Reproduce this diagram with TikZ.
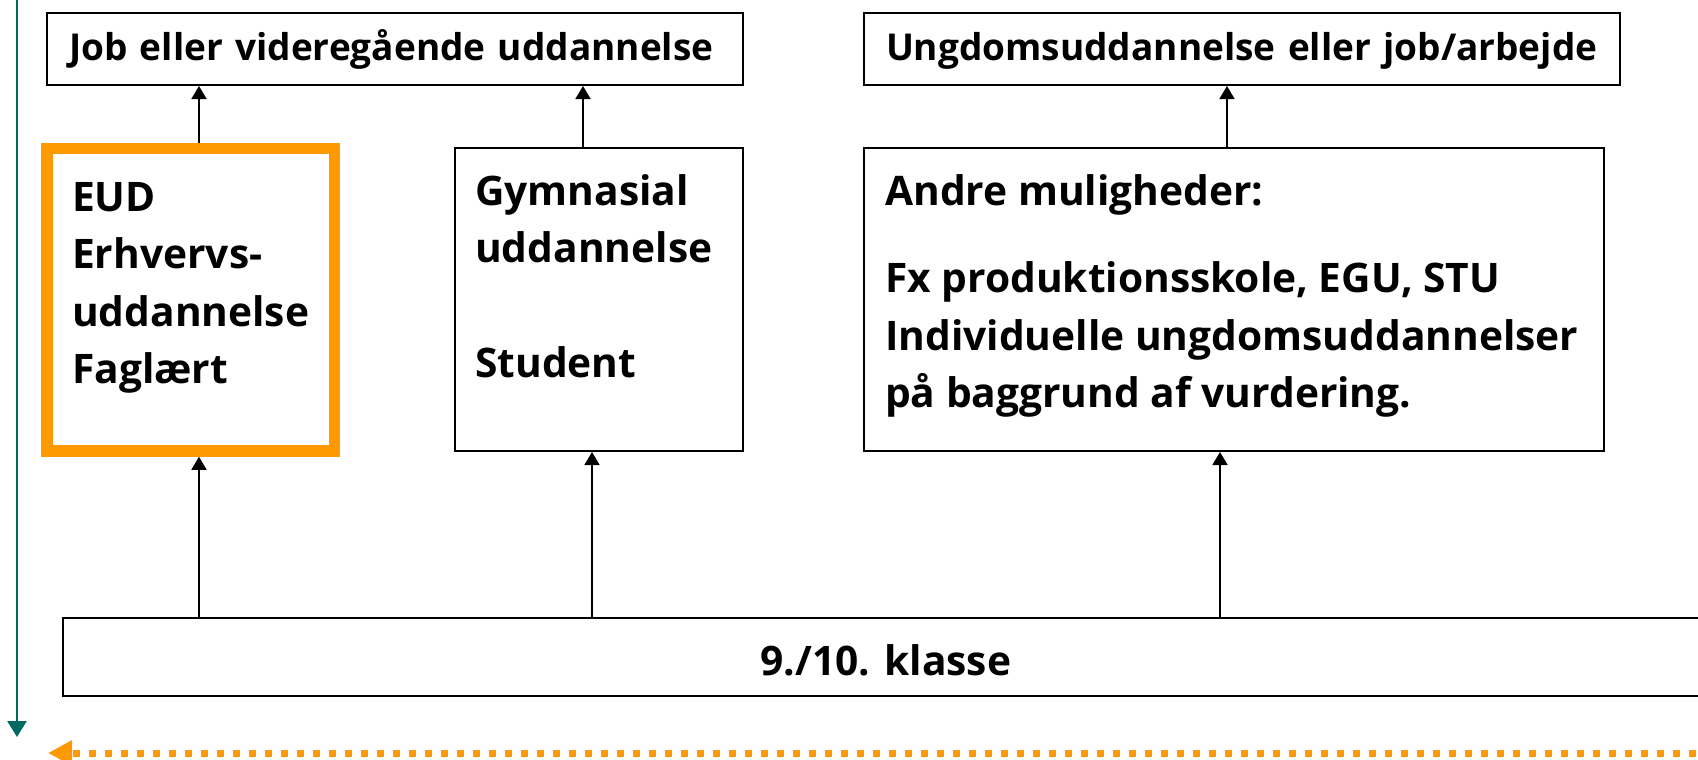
\documentclass[tikz,border=0pt]{standalone}
\usepackage{fontspec}
\setmainfont{Open Sans}
\usetikzlibrary{arrows.meta}
\definecolor{eudorange}{RGB}{255,153,0}
\definecolor{tealc}{RGB}{0,106,96}
\begin{document}
\begin{tikzpicture}[x=1pt,y=-1pt,
  box/.style={draw=black, line width=2pt, fill=white, inner sep=0pt},
  topbox/.style={box, minimum height=72pt, align=left, inner ysep=0pt,
     text height=32pt, text depth=8pt,
     font=\fontsize{37}{44}\selectfont\bfseries},
  bodytext/.style={anchor=north west, inner sep=0pt, align=left,
     font=\fontsize{40.7}{57.5}\selectfont\bfseries},
  arr/.style={line width=1.6pt, -{Triangle[length=13pt,width=15pt]}},
]
\useasboundingbox (0,0) rectangle (1698,760);

% top boxes
\node[topbox, inner xsep=22pt, text width=652pt] (job) at (395,49) {\mbox{Job eller videregående uddannelse}};
\node[topbox, inner xsep=22pt, text width=712pt] (ung) at (1242,49) {\mbox{Ungdomsuddannelse eller job/arbejde}};

% middle boxes
\node[draw=eudorange, line width=11.5pt, minimum width=287.5pt, minimum height=302.5pt, inner sep=0pt] (eud) at (190.75,299.75) {};
\node[box, minimum width=288pt, minimum height=303pt] (gym) at (599,299.5) {};
\node[box, minimum width=740pt, minimum height=303pt] (andre) at (1234,299.5) {};

\node[bodytext] (eudt) at (72,176) {\rule{0pt}{35pt}EUD\\Erhvervs-\\uddannelse\\Faglært};
\node[bodytext] (gymt) at (475,170) {\rule{0pt}{35pt}Gymnasial\\uddannelse\\[57.5pt]Student};
\node[bodytext] (andret) at (885,170) {\rule{0pt}{35pt}Andre muligheder:\\[30pt]Fx produktionsskole, EGU, STU\\Individuelle ungdomsuddannelser\\på baggrund af vurdering.};

% bottom box
\node[box, minimum width=1646pt, minimum height=78pt, text height=36pt, text depth=0pt,
      font=\fontsize{40.7}{48}\selectfont\bfseries] (klasse) at (886,657) {9./10. klasse};

% arrow columns
\coordinate (c1) at (199,0);
\coordinate (c2) at (592,0);
\coordinate (c3) at (583,0);
\coordinate (c4) at (1220,0);
\coordinate (c5) at (1227,0);

\draw[arr] (klasse.north -| c1) -- (eud.south -| c1);
\draw[arr] (klasse.north -| c2) -- (gym.south -| c2);
\draw[arr] (klasse.north -| c4) -- (andre.south -| c4);
\draw[arr] (eud.north -| c1) -- (job.south -| c1);
\draw[arr] (gym.north -| c3) -- (job.south -| c3);
\draw[arr] (andre.north -| c5) -- (ung.south -| c5);

% teal vertical arrow
\coordinate (ts) at (17,-5);
\coordinate (te) at (17,737);
\draw[tealc, line width=2.5pt, -{Triangle[length=16pt,width=19pt]}] (ts) -- (te);

% orange dashed arrow
\coordinate (os) at (1712,753);
\coordinate (oe) at (48,753);
\draw[eudorange, line width=7pt, dash pattern=on 7pt off 9pt, -{Triangle[length=24pt,width=24pt]}] (os) -- (oe);
\end{tikzpicture}
\end{document}
